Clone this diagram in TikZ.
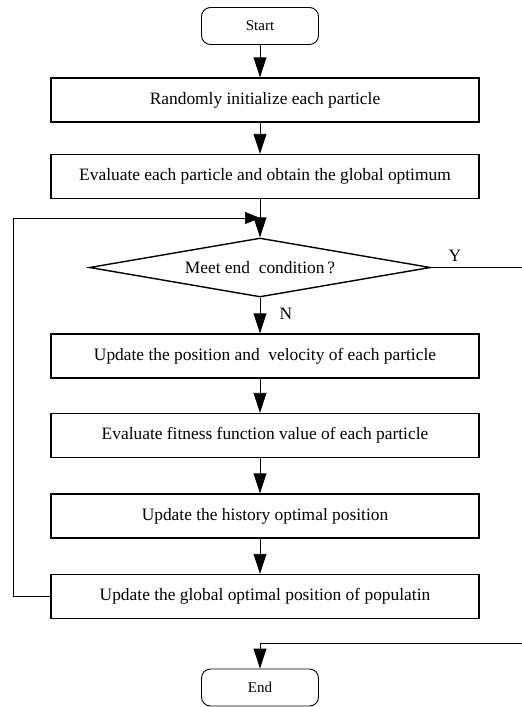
\documentclass[tikz,border=0pt]{standalone}
\usepackage{fontspec}
\setmainfont{Liberation Serif}
\usetikzlibrary{arrows.meta,shapes.geometric}
\begin{document}
\begin{tikzpicture}[x=1pt,y=-1pt,
  box/.style={draw,line width=1.4pt,minimum width=428pt,minimum height=44pt,inner sep=0pt,font=\fontsize{17.4}{19}\selectfont},
  term/.style={draw,line width=0.9pt,rounded corners=9pt,minimum width=117pt,minimum height=37pt,inner sep=0pt,font=\fontsize{15}{17}\selectfont},
  dec/.style={draw,line width=1.4pt,diamond,aspect=5.8,minimum width=341pt,minimum height=59pt,inner sep=0pt,font=\fontsize{17.4}{19}\selectfont},
  arr/.style={line width=0.9pt,-{Triangle[width=13pt,length=20pt]}},
  harr/.style={line width=0.7pt,-{Triangle[width=12pt,length=15pt]}},
  thin/.style={line width=0.7pt},
  lbl/.style={font=\fontsize{17.4}{19}\selectfont,inner sep=0pt}]
\useasboundingbox (0,0) rectangle (522,707);
\node[term] (start) at (260,26) {Start};
\node[box] (b1) at (265,100) {Randomly initialize each particle};
\node[box] (b2) at (265,176.5) {Evaluate each particle and obtain the global optimum};
\node[dec] (d) at (260,267.5) {Meet end\ \ condition\,?};
\node[box] (b3) at (265,356) {Update the position and\ \ velocity of each particle};
\node[box] (b4) at (265,435.5) {Evaluate fitness function value of each particle};
\node[box] (b5) at (265,516) {Update the history optimal position};
\node[box] (b6) at (265,596.5) {Update the global optimal position of populatin};
\node[term] (end) at (260,687.5) {End};
\coordinate (m) at (260,218);
\coordinate (ll) at (13,596.5);
\coordinate (lt) at (13,218);
\coordinate (yr) at (522,267.5);
\coordinate (er) at (522,643);
\coordinate (ec) at (260,643);
\node[lbl] (ylab) at (455,256) {Y};
\node[lbl] (nlab) at (286,314) {N};
\draw[arr] (start.south) -- (b1.north -| start.south);
\draw[arr] (b1.south -| d.north) -- (b2.north -| d.north);
\draw[arr] (b2.south -| d.north) -- (d.north);
\draw[arr] (d.south) -- (b3.north -| d.south);
\draw[arr] (b3.south -| d.south) -- (b4.north -| d.south);
\draw[arr] (b4.south -| d.south) -- (b5.north -| d.south);
\draw[arr] (b5.south -| d.south) -- (b6.north -| d.south);
\draw[thin] (b6.west) -- (ll) -- (lt) -- (m);
\draw[harr] (lt) -- (m);
\draw[thin] (d.east) -- (yr);
\draw[thin] (er) -- (ec);
\draw[arr] (ec) -- (end.north);
\end{tikzpicture}
\end{document}
